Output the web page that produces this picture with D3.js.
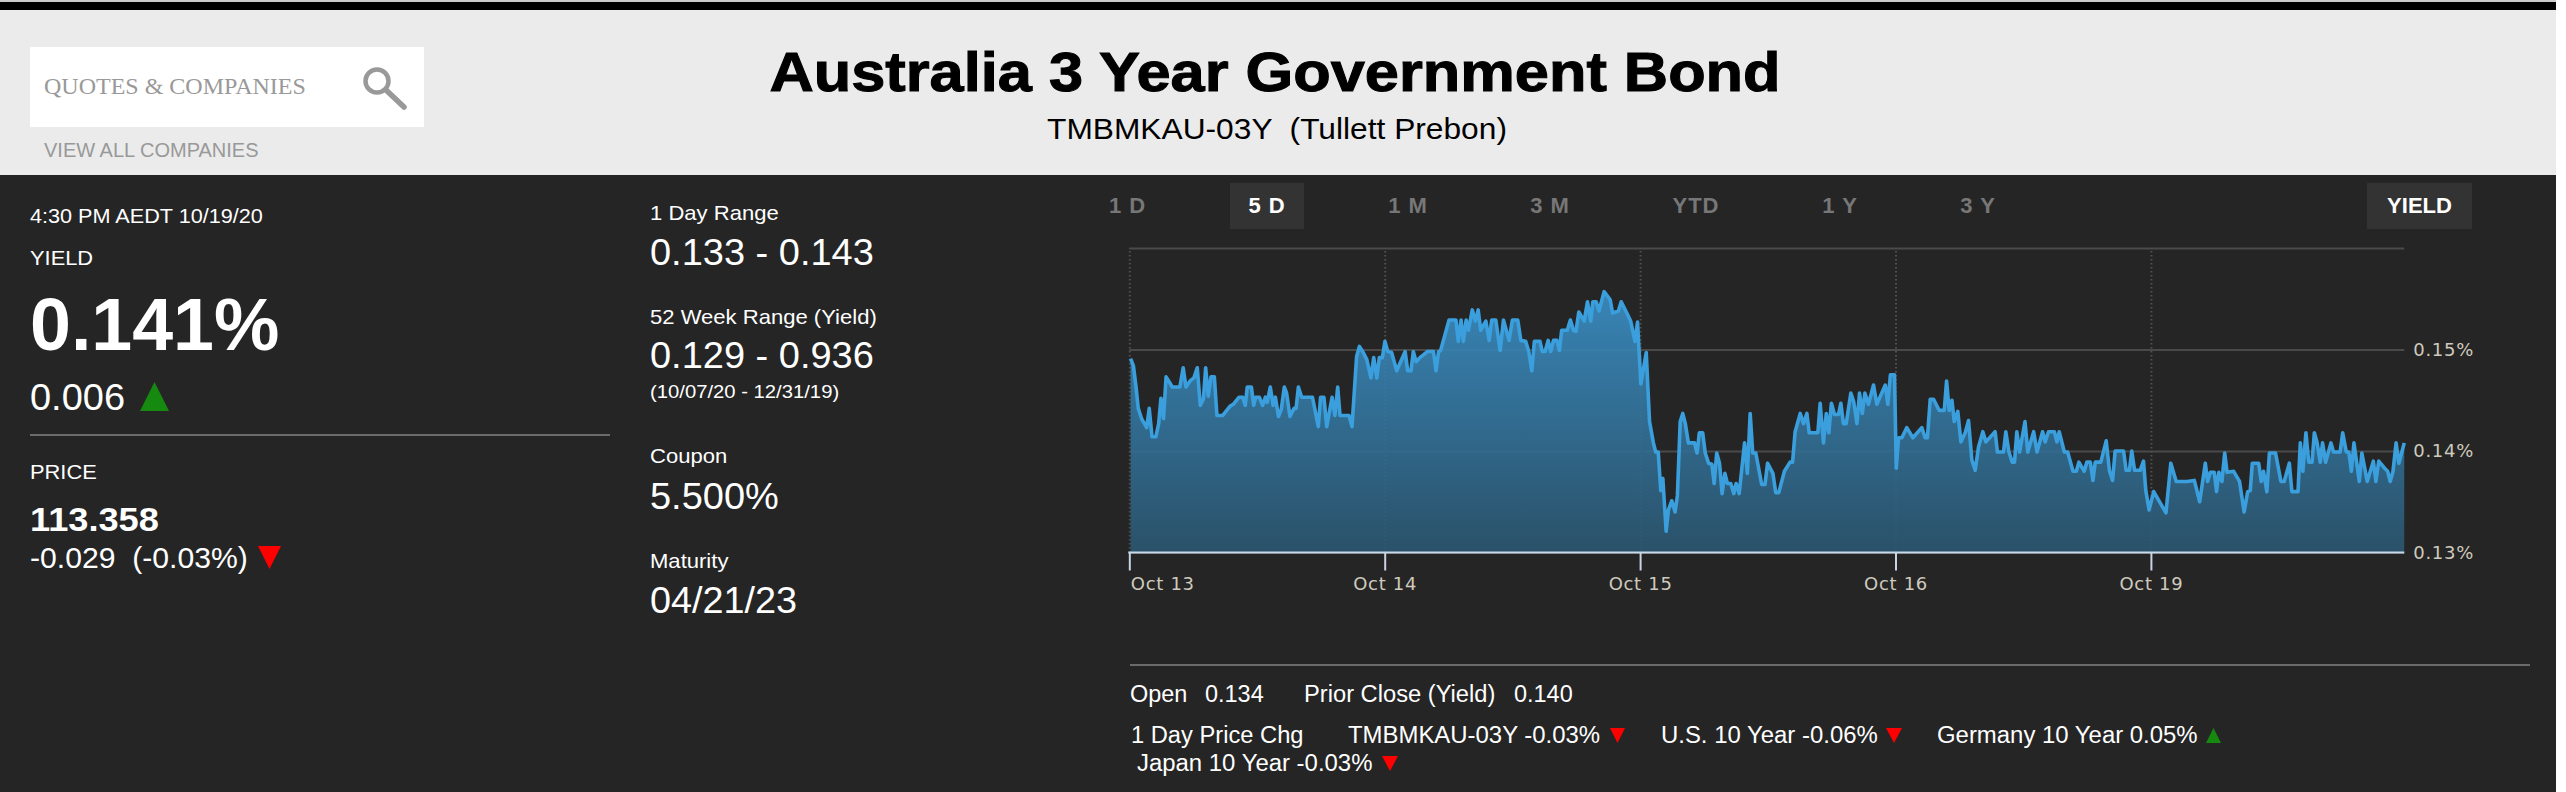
<!DOCTYPE html>
<html>
<head>
<meta charset="utf-8">
<title>Australia 3 Year Government Bond</title>
<script src="https://cdn.jsdelivr.net/npm/d3@7"></script>
<style>
    body { margin: 0; background: #fff; }
    svg { display: block; font-family: "Liberation Sans", Arial, sans-serif; }
    .axis text { font-family: "DejaVu Sans", sans-serif; font-size: 18px; fill: #cfcabd; letter-spacing: 0.7px; }
    .axis .domain { display: none; }
</style>
</head>
<body>
<script>
// session position (0 = Oct 13 open, one unit per trading day)
var sessionTimes = [
    .005,.016,.026,.035,.048,.068,.078,.089,.104,.115,
    .124,.134,.144,.159,.168,.198,.211,.222,.238,.253,
    .266,.278,.290,.299,.309,.320,.333,.343,.366,.394,
    .407,.430,.444,.454,.462,.478,.487,.495,.509,.522,
    .533,.540,.552,.563,.572,.584,.595,.607,.616,.629,
    .645,.653,.662,.675,.717,.740,.749,.762,.773,.794,
    .805,.816,.825,.860,.872,.890,.901,.916,.930,.946,
    .957,.969,.979,.991,1.001,
    1.012,1.027,1.047,1.080,1.090,1.103,1.112,1.123,1.138,1.167,
    1.191,1.201,1.211,1.219,1.252,1.279,1.288,1.299,1.308,1.319,
    1.328,1.343,1.355,1.366,1.376,1.396,1.409,1.419,1.435,1.452,
    1.465,1.487,1.500,1.521,1.533,1.552,1.564,1.576,1.586,1.608,
    1.617,1.628,1.640,1.650,1.661,1.674,1.684,1.693,1.715,1.727,
    1.739,1.749,1.760,1.781,1.794,
    1.807,1.815,1.828,1.839,1.859,1.883,1.892,1.915,1.926,1.948,
    1.963,1.980,1.990,2.003,2.024,2.037,2.052,2.061,2.071,2.081,
    2.089,2.102,2.111,2.124,2.137,2.146,2.157,2.167,2.177,2.189,
    2.213,2.223,2.232,2.245,2.255,2.268,2.281,2.290,2.300,2.311,
    2.321,2.332,2.342,2.355,2.367,2.376,2.388,2.409,2.420,2.431,
    2.441,2.453,2.476,2.489,2.499,2.520,2.531,2.543,2.565,2.587,
    2.597,2.607,2.627,2.640,2.653,2.662,2.696,2.705,2.718,2.729,
    2.739,2.749,2.761,2.777,2.786,2.796,2.807,2.825,2.836,2.849,
    2.859,2.870,2.880,2.894,2.914,2.927,2.960,2.970,2.980,2.996,
    3.003,3.012,3.025,3.044,3.068,3.103,3.116,3.125,3.136,3.149,
    3.171,3.191,3.200,3.210,3.221,3.230,3.244,3.256,3.273,3.286,
    3.299,3.312,3.325,3.342,3.354,3.390,3.399,3.423,3.432,3.444,
    3.457,3.466,3.475,3.486,3.507,3.518,3.541,3.554,3.576,3.586,
    3.599,3.622,3.632,3.641,3.661,3.674,3.695,3.708,3.718,3.739,
    3.749,3.763,
    3.773,3.782,3.804,3.825,3.838,3.850,3.860,3.893,3.903,3.916,
    3.925,3.936,3.958,3.971,3.980,3.993,4.011,4.059,4.078,4.099,
    4.141,4.170,4.191,4.213,4.222,4.233,4.248,4.257,4.266,4.278,
    4.289,4.298,4.324,4.347,4.365,4.379,4.389,4.397,4.422,4.432,
    4.441,4.454,4.464,4.488,4.509,4.522,4.542,4.552,4.576,4.585,
    4.595,4.607,4.618,4.631,4.640,4.650,4.663,4.672,4.684,4.705,
    4.715,4.741,4.751,4.765,4.775,4.785,4.795,4.816,4.826,4.847,
    4.871,4.881,4.892,4.915,4.927,4.937,4.948,4.960,4.971,4.992
];
var yields = [
    .1491,.1484,.1464,.1442,.1432,.1423,.1442,.1414,.1414,.1427,
    .1452,.1432,.1473,.1467,.1463,.1463,.1482,.1463,.1469,.1472,
    .1482,.1445,.1451,.1482,.1454,.1473,.1473,.1435,.1435,.1444,
    .1446,.1453,.1453,.1445,.1463,.1463,.1445,.1453,.1453,.1445,
    .1453,.1448,.1463,.1445,.1453,.1434,.1441,.1463,.1457,.1434,
    .1442,.1442,.1463,.1453,.1453,.1424,.1453,.1453,.1424,.1453,
    .1435,.1463,.1435,.1435,.1424,.1493,.1503,.1497,.1490,.1472,
    .1492,.1472,.1492,.1492,.1508,
    .1498,.1497,.1479,.1498,.1479,.1479,.1498,.1488,.1492,.1498,
    .1498,.1479,.1498,.1499,.1529,.1529,.1508,.1529,.1508,.1529,
    .1519,.1539,.1528,.1539,.1519,.1528,.1509,.1529,.1529,.1499,
    .1529,.1509,.1529,.1529,.1509,.1508,.1498,.1479,.1508,.1508,
    .1498,.1498,.1509,.1498,.1509,.1509,.1499,.1519,.1519,.1529,
    .1519,.1518,.1537,.1528,.1547,
    .1528,.1547,.1547,.1538,.1557,.1549,.1536,.1538,.1547,.1536,
    .1528,.1508,.1527,.1466,.1497,.1429,.1408,.1399,.1399,.1361,
    .1373,.1321,.1342,.1351,.1340,.1356,.1429,.1437,.1427,.1408,
    .1408,.1398,.1418,.1418,.1398,.1388,.1387,.1368,.1398,.1388,
    .1358,.1378,.1368,.1368,.1358,.1368,.1358,.1408,.1378,.1437,
    .1398,.1398,.1367,.1367,.1388,.1378,.1359,.1359,.1380,.1389,
    .1389,.1419,.1437,.1427,.1437,.1418,.1418,.1447,.1408,.1437,
    .1418,.1447,.1436,.1436,.1447,.1427,.1427,.1457,.1449,.1427,
    .1457,.1437,.1457,.1446,.1465,.1446,.1465,.1446,.1475,.1475,
    .1383,.1413,.1413,.1423,.1413,.1423,.1413,.1413,.1451,.1451,
    .1440,.1440,.1469,.1440,.1450,.1429,.1439,.1409,.1418,.1430,
    .1391,.1381,.1404,.1419,.1409,.1419,.1399,.1399,.1419,.1399,
    .1389,.1389,.1419,.1399,.1429,.1399,.1419,.1399,.1419,.1409,
    .1419,.1419,.1409,.1419,.1399,.1399,.1380,.1380,.1389,.1380,
    .1389,.1389,
    .1371,.1389,.1389,.1410,.1380,.1371,.1400,.1400,.1381,.1381,
    .1400,.1381,.1381,.1390,.1361,.1342,.1360,.1339,.1388,.1370,
    .1370,.1371,.1350,.1388,.1370,.1379,.1379,.1360,.1379,.1370,
    .1398,.1379,.1380,.1370,.1340,.1360,.1361,.1388,.1388,.1370,
    .1380,.1360,.1398,.1398,.1370,.1370,.1388,.1360,.1360,.1408,
    .1380,.1418,.1389,.1389,.1418,.1409,.1389,.1408,.1389,.1408,
    .1399,.1399,.1418,.1399,.1399,.1380,.1408,.1370,.1398,.1370,
    .1390,.1370,.1390,.1383,.1380,.1370,.1380,.1408,.1388,.1408
];
var dateLabels = ['Oct 13', 'Oct 14', 'Oct 15', 'Oct 16', 'Oct 19'];
var yieldTicks = [0.13, 0.14, 0.15];
var gridTicks = [0.13, 0.14, 0.15, 0.16];
var rangeTabs = ['1 D', '5 D', '1 M', '3 M', 'YTD', '1 Y', '3 Y'];

var width = 2566, height = 792;
var svg = d3.select('body').append('svg').attr('width', width).attr('height', height);

function block(x, y, w, h, fill) {
    return svg.append('rect').attr('x', x).attr('y', y).attr('width', w).attr('height', h).attr('fill', fill);
}
// opts.sx widens the glyphs, the reference was hinted wider than our fonts
function label(x, y, str, size, opts) {
    opts = opts || {};
    var t = svg.append('text').attr('x', x).attr('y', y)
        .attr('font-size', size)
        .attr('font-weight', opts.bold ? 'bold' : null)
        .attr('text-anchor', opts.anchor || 'start')
        .attr('letter-spacing', opts.spacing || null)
        .attr('fill', opts.fill || '#fff')
        .style('font-family', opts.family || null)
        .style('white-space', 'pre')
        .text(str);
    if (opts.sx) {
        t.attr('textLength', t.node().getComputedTextLength() * opts.sx)
            .attr('lengthAdjust', 'spacingAndGlyphs');
    }
    return t;
}
var arrow = d3.line();
function triangle(x0, x1, y0, y1, fill) {
    // y0 is the tip
    svg.append('path')
        .attr('d', arrow([[x0, y1], [x1, y1], [(x0 + x1) / 2, y0]]) + 'Z')
        .attr('fill', fill);
}
var GREEN = '#168a10', RED = '#ff0000';

// page frame
block(0, 0, 2556, 2, '#cccccc');
block(0, 2, 2556, 8, '#000000');
block(0, 10, 2556, 165, '#ebebeb');
block(0, 175, 2556, 617, '#252525');

// search box
block(30, 47, 394, 80, '#ffffff');
label(44, 94, 'QUOTES & COMPANIES', 24, {family: '"Liberation Serif", serif', fill: '#999'});
label(44, 157, 'VIEW ALL COMPANIES', 20, {fill: '#999'});
svg.append('circle').attr('cx', 377).attr('cy', 81).attr('r', 11.5)
    .attr('fill', 'none').attr('stroke', '#999').attr('stroke-width', 4.5);
svg.append('path').attr('d', arrow([[386, 90], [404, 107]]))
    .attr('stroke', '#999').attr('stroke-width', 5.5).attr('stroke-linecap', 'round');

// title
label(1275, 91, 'Australia 3 Year Government Bond', 55, {bold: true, anchor: 'middle', fill: '#000', sx: 1.115})
    .attr('stroke', '#000').attr('stroke-width', 1);
label(1277, 139, 'TMBMKAU-03Y  (Tullett Prebon)', 30, {anchor: 'middle', fill: '#000', sx: 1.057});

// left column
label(30, 223, '4:30 PM AEDT 10/19/20', 21, {sx: 1.03});
label(30, 265, 'YIELD', 21, {sx: 1.04});
label(30, 350, '0.141%', 75, {bold: true, sx: 0.98});
label(30, 410, '0.006', 36, {sx: 1.055});
triangle(140, 169, 382, 411, GREEN);
block(30, 434, 580, 2, '#6b6b6b');
label(30, 479, 'PRICE', 21, {sx: 1.04});
label(30, 531, '113.358', 34, {bold: true, sx: 1.065});
label(30, 568, '-0.029  (-0.03%)', 30, {sx: 1.005});
triangle(281, 258, 569, 546, RED);

// middle column
label(650, 220, '1 Day Range', 21, {sx: 1.05});
label(650, 265, '0.133 - 0.143', 36, {sx: 1.055});
label(650, 324, '52 Week Range (Yield)', 21, {sx: 1.05});
label(650, 368, '0.129 - 0.936', 36, {sx: 1.055});
label(650, 398, '(10/07/20 - 12/31/19)', 18, {sx: 1.125});
label(650, 463, 'Coupon', 21, {sx: 1.05});
label(650, 509, '5.500%', 36, {sx: 1.055});
label(650, 568, 'Maturity', 21, {sx: 1.05});
label(650, 613, '04/21/23', 36, {sx: 1.05});

// range tabs
var tabCentres = [1127.5, 1267, 1408, 1550, 1696, 1840, 1978];
block(1230, 183, 74, 46, '#333333');
block(2367, 183, 105, 46, '#333333');
rangeTabs.forEach(function(t, i) {
    label(tabCentres[i], 213, t, 22, {bold: true, anchor: 'middle', spacing: 1, fill: t === '5 D' ? '#fff' : '#777'});
});
label(2419.5, 213, 'YIELD', 22, {bold: true, anchor: 'middle', fill: '#fff'});

// chart
var x = d3.scaleLinear().domain([0, 5]).range([1129.3, 2406.3]);
var y = d3.scaleLinear().domain([0.13, 0.16]).range([552.5, 248]);
var points = d3.zip(sessionTimes, yields);

var grad = svg.append('defs').append('linearGradient')
    .attr('id', 'areaFill').attr('x1', 0).attr('x2', 0).attr('y1', 0).attr('y2', 1);
grad.append('stop').attr('offset', '0%').attr('stop-color', '#3a8fc6');
grad.append('stop').attr('offset', '100%').attr('stop-color', '#2b5670');

var plot = svg.append('g');

// horizontal grid
plot.append('g')
    .attr('transform', 'translate(' + x(0) + ',0)')
    .call(d3.axisLeft(y).tickValues(gridTicks).tickSize(-(x(4.992) - x(0))).tickFormat(''))
    .call(function(g) {
        g.select('.domain').remove();
        g.selectAll('line').attr('stroke', '#4a4a4a').attr('stroke-width', 2);
    });

// vertical dotted grid
plot.append('g')
    .attr('transform', 'translate(0,' + y(0.13) + ')')
    .call(d3.axisBottom(x).tickValues(d3.range(dateLabels.length)).tickSize(-(y(0.13) - y(0.16))).tickFormat(''))
    .call(function(g) {
        g.select('.domain').remove();
        g.selectAll('line').attr('stroke', '#505050').attr('stroke-width', 2).attr('stroke-dasharray', '1.5,2.5');
    });

plot.append('path').datum(points)
    .attr('fill', 'url(#areaFill)').attr('fill-opacity', 0.9)
    .attr('d', d3.area().x(function(d) { return x(d[0]); }).y0(y(0.13)).y1(function(d) { return y(d[1]); }));

plot.append('path').datum(points)
    .attr('fill', 'none').attr('stroke', '#3a9fdc').attr('stroke-width', 3.6).attr('stroke-linejoin', 'round')
    .attr('d', d3.line().x(function(d) { return x(d[0]); }).y(function(d) { return y(d[1]); }));

// x axis
var xAxis = svg.append('g').attr('class', 'axis')
    .attr('transform', 'translate(0,' + y(0.13) + ')')
    .call(d3.axisBottom(x).tickValues(d3.range(dateLabels.length)).tickSize(18).tickPadding(7)
        .tickFormat(function(d) { return dateLabels[d]; }));
xAxis.selectAll('line').attr('stroke', '#c8d4e4').attr('stroke-width', 2);
// first label hangs to the right of its tick
xAxis.selectAll('.tick').filter(function(d) { return d === 0; }).select('text').attr('text-anchor', 'start').attr('x', 1);
svg.append('line')
    .attr('x1', x(0) - 1).attr('x2', x(4.992)).attr('y1', y(0.13)).attr('y2', y(0.13))
    .attr('stroke', '#c8d9ea').attr('stroke-width', 2);

// y axis
svg.append('g').attr('class', 'axis')
    .attr('transform', 'translate(' + x(4.992) + ',0)')
    .call(d3.axisRight(y).tickValues(yieldTicks).tickSize(0).tickPadding(9)
        .tickFormat(function(d) { return d.toFixed(2) + '%'; }));

// footer
block(1130, 664, 1400, 2, '#6b6b6b');
label(1130, 702, 'Open', 23, {sx: 1.02});
label(1205, 702, '0.134', 23, {sx: 1.02});
label(1304, 702, 'Prior Close (Yield)', 23, {sx: 1.03});
label(1514, 702, '0.140', 23, {sx: 1.02});
label(1131, 743, '1 Day Price Chg', 23, {sx: 1.03});
label(1348, 743, 'TMBMKAU-03Y -0.03%', 23, {sx: 1.04});
triangle(1625, 1610, 743, 728, RED);
label(1661, 743, 'U.S. 10 Year -0.06%', 23, {sx: 1.04});
triangle(1902, 1886, 743, 728, RED);
label(1937, 743, 'Germany 10 Year 0.05%', 23, {sx: 1.04});
triangle(2206, 2221, 728, 743, GREEN);
label(1137, 771, 'Japan 10 Year -0.03%', 23, {sx: 1.04});
triangle(1398, 1382, 771, 756, RED);
</script>
</body>
</html>
